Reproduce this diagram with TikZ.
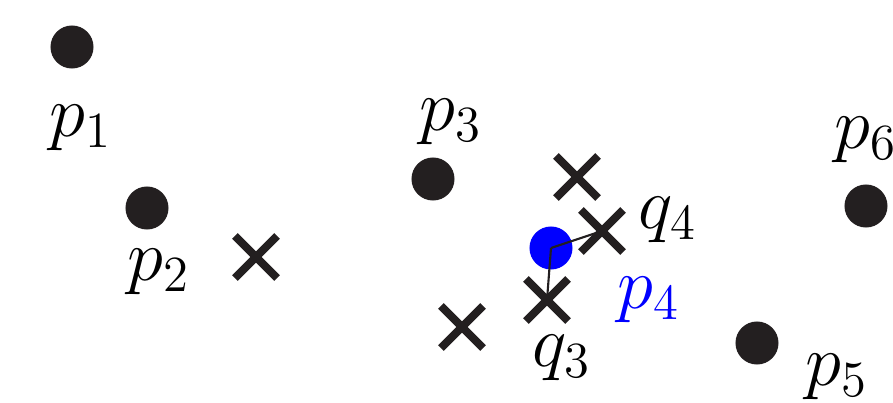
\documentclass[tikz,border=0pt]{standalone}
\usepackage{amsmath}
\usetikzlibrary{shapes.misc}
\definecolor{dotgray}{HTML}{231F20}
\tikzset{
  site/.style={circle, fill=dotgray, inner sep=0pt, minimum size=0.43cm},
  query/.style={cross out, draw=dotgray, line width=2.3pt, inner sep=0pt, minimum size=0.34cm},
  lbl/.style={inner sep=0pt, font=\fontsize{21.5}{26}\selectfont},
}
\begin{document}
\begin{tikzpicture}[x=0.01cm, y=-0.01cm]
        \useasboundingbox (0,0) rectangle (893,403);

        % ==========================================
        % Sites
        % ==========================================
        \node[site] (p1) at (72,47) {};
        \node[site] (p2) at (147,208) {};
        \node[site] (p3) at (433,179) {};
        \node[site, fill=blue] (p4) at (551,248) {};
        \node[site] (p5) at (757,343) {};
        \node[site] (p6) at (866,206) {};

        % ==========================================
        % Query points
        % ==========================================
        \node[query] (x1) at (256,257) {};
        \node[query] (x2) at (577,177) {};
        \node[query] (q4) at (602,231) {};
        \node[query] (q3) at (547,300) {};
        \node[query] (x5) at (462,327) {};

        % ==========================================
        % Links from p4
        % ==========================================
        \draw[dotgray, line width=0.6pt] (p4.center) -- (q4.center);
        \draw[dotgray, line width=0.6pt] (p4.center) -- (q3.center);

        % ==========================================
        % Labels
        % ==========================================
        \node[lbl] (lp1) at (81,128) {$p_1$};
        \node[lbl] (lp2) at (159,272) {$p_2$};
        \node[lbl] (lp3) at (451,122) {$p_3$};
        \node[lbl, text=blue] (lp4) at (649,300) {$p_4$};
        \node[lbl] (lp5) at (837,377) {$p_5$};
        \node[lbl] (lp6) at (866,140) {$p_6$};
        \node[lbl] (lq4) at (668,220) {$q_4$};
        \node[lbl] (lq3) at (562,358) {$q_3$};

\end{tikzpicture}
\end{document}
